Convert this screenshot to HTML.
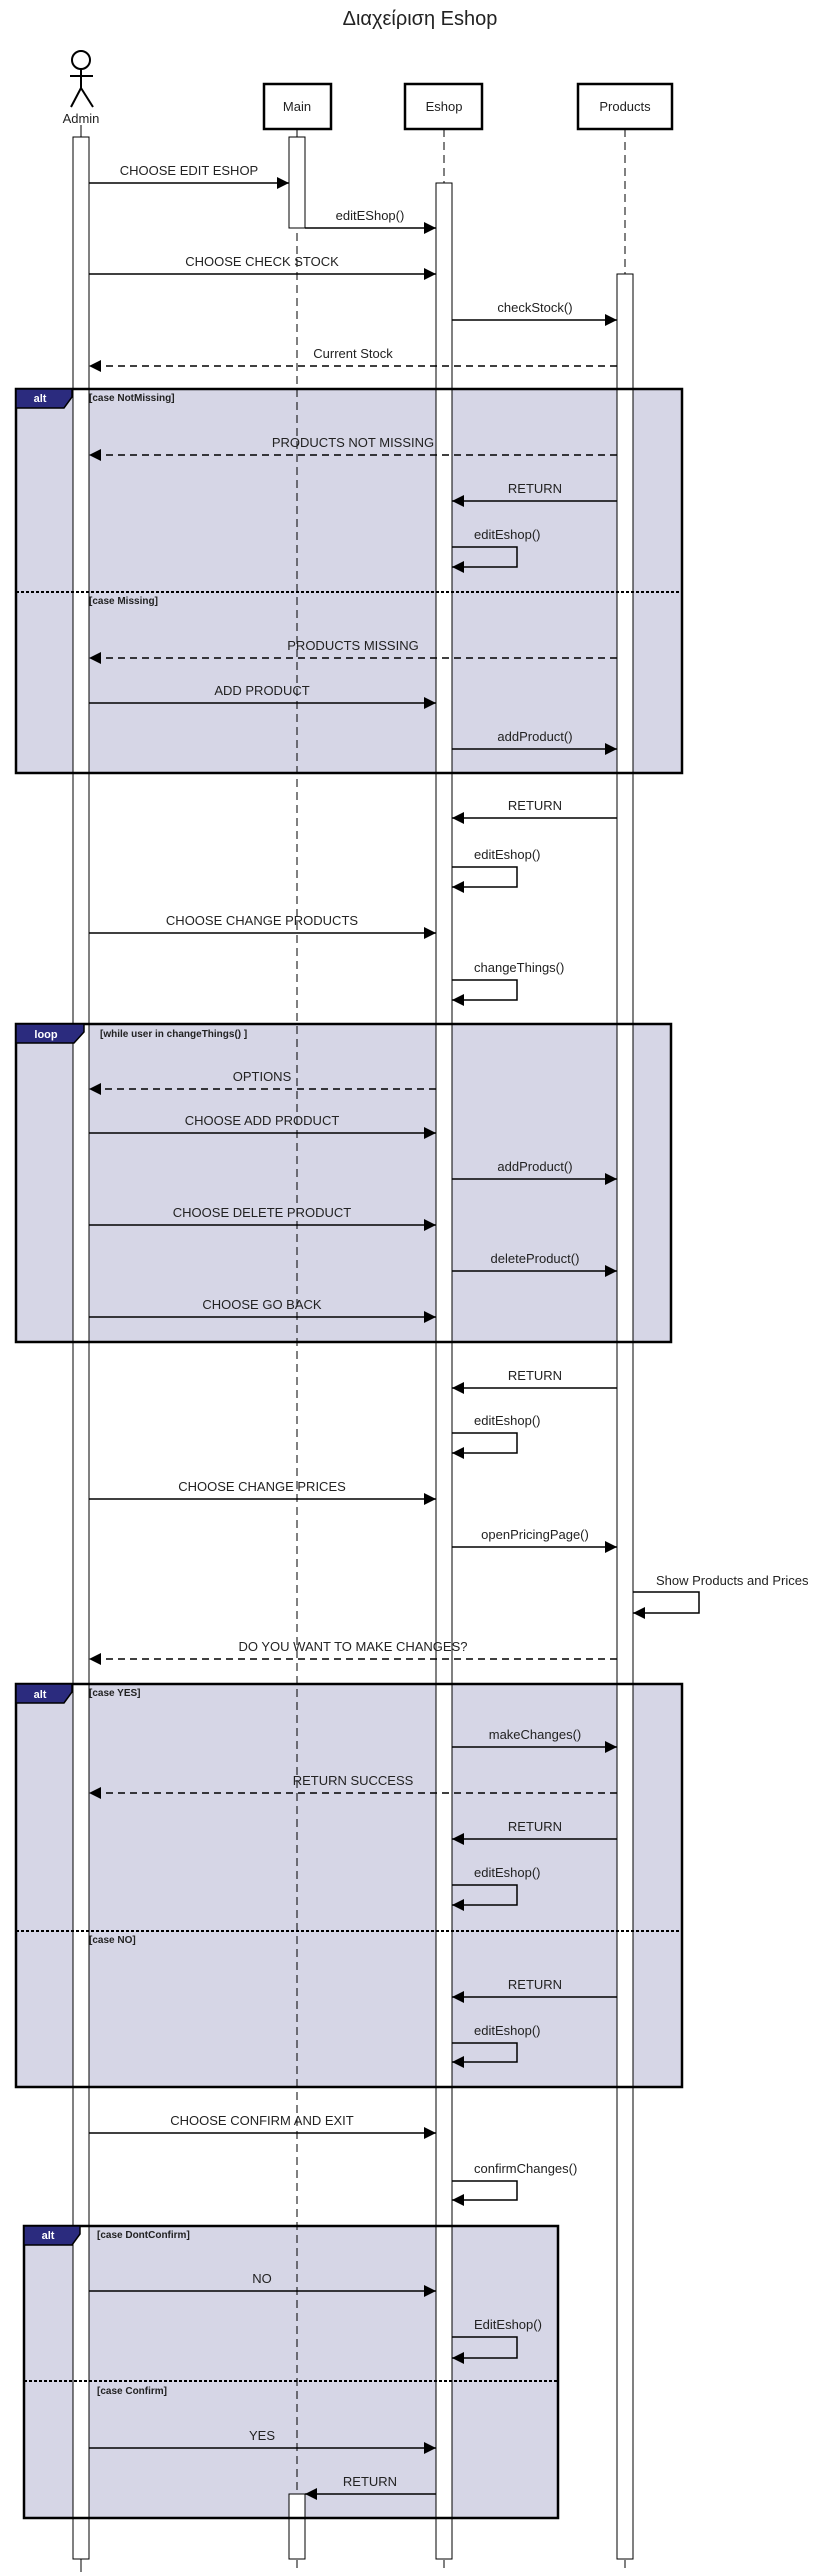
<!DOCTYPE html>
<html><head><meta charset="utf-8"><style>
html,body{margin:0;padding:0;background:#fff;}
svg{display:block;}
text{font-family:"Liberation Sans",Arial,sans-serif;fill:#222;}
.m{font-size:13px;text-anchor:middle;}
.s{font-size:13px;}
.g{font-size:10px;font-weight:bold;}
.t{font-size:11px;font-weight:bold;fill:#fff;text-anchor:middle;}
</style></head><body>
<svg width="835" height="2575" viewBox="0 0 835 2575" xmlns="http://www.w3.org/2000/svg">
<defs>
<marker id="ar" viewBox="0 0 12 12" refX="12" refY="6" markerWidth="12" markerHeight="12" markerUnits="userSpaceOnUse" orient="auto"><path d="M0,0 L12,6 L0,12 z" fill="#000"/></marker>
</defs>
<text x="420" y="25" style="font-size:20px;text-anchor:middle">Διαχείριση Eshop</text>
<g stroke="#000" stroke-width="2" fill="none">
<circle cx="81" cy="60" r="9"/>
<line x1="81" y1="69" x2="81" y2="88"/>
<line x1="70" y1="76" x2="93" y2="76"/>
<line x1="81" y1="88" x2="71" y2="107"/>
<line x1="81" y1="88" x2="93" y2="107"/>
</g>
<text x="81" y="123" style="font-size:13px;text-anchor:middle">Admin</text>
<g stroke="#000" stroke-width="2.5" fill="#fff">
<rect x="264" y="84" width="67" height="45"/>
<rect x="405" y="84" width="77" height="45"/>
<rect x="578" y="84" width="94" height="45"/>
</g>
<text x="297" y="111" style="font-size:13px;text-anchor:middle">Main</text>
<text x="444" y="111" style="font-size:13px;text-anchor:middle">Eshop</text>
<text x="625" y="111" style="font-size:13px;text-anchor:middle">Products</text>

<g fill="#d6d6e6" stroke="none">
<rect x="16" y="389" width="666" height="384"/>
<rect x="16" y="1024" width="655" height="318"/>
<rect x="16" y="1684" width="666" height="403"/>
<rect x="24" y="2226" width="534" height="292"/>
</g>

<g stroke="#000" stroke-width="1" stroke-dasharray="8,5">
<line x1="297" y1="129" x2="297" y2="2572"/>
<line x1="444" y1="129" x2="444" y2="2572"/>
<line x1="625" y1="129" x2="625" y2="2572"/>
</g>
<line x1="81" y1="125" x2="81" y2="2572" stroke="#000"/>
<g fill="#fff" stroke="#000" stroke-width="1">
<rect x="73" y="137" width="16" height="2422"/>
<rect x="289" y="137" width="16" height="91"/>
<rect x="436" y="183" width="16" height="2376"/>
<rect x="617" y="274" width="16" height="2285"/>
<rect x="289" y="2494" width="16" height="65"/>
</g>

<g fill="none" stroke="#000" stroke-width="2.5">
<rect x="16" y="389" width="666" height="384"/>
<rect x="16" y="1024" width="655" height="318"/>
<rect x="16" y="1684" width="666" height="403"/>
<rect x="24" y="2226" width="534" height="292"/>
</g>
<g stroke="#000" stroke-width="2" stroke-dasharray="3,2">
<line x1="16" y1="592" x2="682" y2="592"/>
<line x1="16" y1="1931" x2="682" y2="1931"/>
<line x1="24" y1="2381" x2="558" y2="2381"/>
</g>
<g fill="#2b2b7e" stroke="#000" stroke-width="1.5">
<path d="M16,389 H72 V397 L64,408 H16 z"/>
<path d="M16,1024 H84 V1032 L74,1043 H16 z"/>
<path d="M16,1684 H72 V1692 L64,1703 H16 z"/>
<path d="M24,2226 H80 V2234 L72,2245 H24 z"/>
</g>
<text class="t" x="40" y="402">alt</text>
<text class="t" x="46" y="1038">loop</text>
<text class="t" x="40" y="1698">alt</text>
<text class="t" x="48" y="2239">alt</text>
<text class="g" x="89" y="401">[case NotMissing]</text>
<text class="g" x="89" y="604">[case Missing]</text>
<text class="g" x="100" y="1037">[while user in changeThings() ]</text>
<text class="g" x="89" y="1696">[case YES]</text>
<text class="g" x="89" y="1943">[case NO]</text>
<text class="g" x="97" y="2238">[case DontConfirm]</text>
<text class="g" x="97" y="2394">[case Confirm]</text>

<g stroke="#000" stroke-width="1.5" fill="none" marker-end="url(#ar)">
<line x1="89" y1="183" x2="289" y2="183"/>
<line x1="305" y1="228" x2="436" y2="228"/>
<line x1="89" y1="274" x2="436" y2="274"/>
<line x1="452" y1="320" x2="617" y2="320"/>
<line x1="617" y1="501" x2="452" y2="501"/>
<line x1="89" y1="703" x2="436" y2="703"/>
<line x1="452" y1="749" x2="617" y2="749"/>
<line x1="617" y1="818" x2="452" y2="818"/>
<line x1="89" y1="933" x2="436" y2="933"/>
<line x1="89" y1="1133" x2="436" y2="1133"/>
<line x1="452" y1="1179" x2="617" y2="1179"/>
<line x1="89" y1="1225" x2="436" y2="1225"/>
<line x1="452" y1="1271" x2="617" y2="1271"/>
<line x1="89" y1="1317" x2="436" y2="1317"/>
<line x1="617" y1="1388" x2="452" y2="1388"/>
<line x1="89" y1="1499" x2="436" y2="1499"/>
<line x1="452" y1="1547" x2="617" y2="1547"/>
<line x1="452" y1="1747" x2="617" y2="1747"/>
<line x1="617" y1="1839" x2="452" y2="1839"/>
<line x1="617" y1="1997" x2="452" y2="1997"/>
<line x1="89" y1="2133" x2="436" y2="2133"/>
<line x1="89" y1="2291" x2="436" y2="2291"/>
<line x1="89" y1="2448" x2="436" y2="2448"/>
<line x1="436" y1="2494" x2="305" y2="2494"/>
<path d="M452,547 H517 V567 H452"/>
<path d="M452,867 H517 V887 H452"/>
<path d="M452,980 H517 V1000 H452"/>
<path d="M452,1433 H517 V1453 H452"/>
<path d="M633,1592 H699 V1613 H633"/>
<path d="M452,1885 H517 V1905 H452"/>
<path d="M452,2043 H517 V2062 H452"/>
<path d="M452,2181 H517 V2200 H452"/>
<path d="M452,2337 H517 V2358 H452"/>
</g>
<g stroke="#000" stroke-width="1.5" fill="none" stroke-dasharray="7,5" marker-end="url(#ar)">
<line x1="617" y1="366" x2="89" y2="366"/>
<line x1="617" y1="455" x2="89" y2="455"/>
<line x1="617" y1="658" x2="89" y2="658"/>
<line x1="436" y1="1089" x2="89" y2="1089"/>
<line x1="617" y1="1659" x2="89" y2="1659"/>
<line x1="617" y1="1793" x2="89" y2="1793"/>
</g>

<text class="m" x="189" y="175">CHOOSE EDIT ESHOP</text>
<text class="m" x="370" y="220">editEShop()</text>
<text class="m" x="262" y="266">CHOOSE CHECK STOCK</text>
<text class="m" x="535" y="312">checkStock()</text>
<text class="m" x="353" y="358">Current Stock</text>
<text class="m" x="353" y="447">PRODUCTS NOT MISSING</text>
<text class="m" x="535" y="493">RETURN</text>
<text class="s" x="474" y="539">editEshop()</text>
<text class="m" x="353" y="650">PRODUCTS MISSING</text>
<text class="m" x="262" y="695">ADD PRODUCT</text>
<text class="m" x="535" y="741">addProduct()</text>
<text class="m" x="535" y="810">RETURN</text>
<text class="s" x="474" y="859">editEshop()</text>
<text class="m" x="262" y="925">CHOOSE CHANGE PRODUCTS</text>
<text class="s" x="474" y="972">changeThings()</text>
<text class="m" x="262" y="1081">OPTIONS</text>
<text class="m" x="262" y="1125">CHOOSE ADD PRODUCT</text>
<text class="m" x="535" y="1171">addProduct()</text>
<text class="m" x="262" y="1217">CHOOSE DELETE PRODUCT</text>
<text class="m" x="535" y="1263">deleteProduct()</text>
<text class="m" x="262" y="1309">CHOOSE GO BACK</text>
<text class="m" x="535" y="1380">RETURN</text>
<text class="s" x="474" y="1425">editEshop()</text>
<text class="m" x="262" y="1491">CHOOSE CHANGE PRICES</text>
<text class="m" x="535" y="1539">openPricingPage()</text>
<text class="s" x="656" y="1585">Show Products and Prices</text>
<text class="m" x="353" y="1651">DO YOU WANT TO MAKE CHANGES?</text>
<text class="m" x="535" y="1739">makeChanges()</text>
<text class="m" x="353" y="1785">RETURN SUCCESS</text>
<text class="m" x="535" y="1831">RETURN</text>
<text class="s" x="474" y="1877">editEshop()</text>
<text class="m" x="535" y="1989">RETURN</text>
<text class="s" x="474" y="2035">editEshop()</text>
<text class="m" x="262" y="2125">CHOOSE CONFIRM AND EXIT</text>
<text class="s" x="474" y="2173">confirmChanges()</text>
<text class="m" x="262" y="2283">NO</text>
<text class="s" x="474" y="2329">EditEshop()</text>
<text class="m" x="262" y="2440">YES</text>
<text class="m" x="370" y="2486">RETURN</text>
</svg>
</body></html>
